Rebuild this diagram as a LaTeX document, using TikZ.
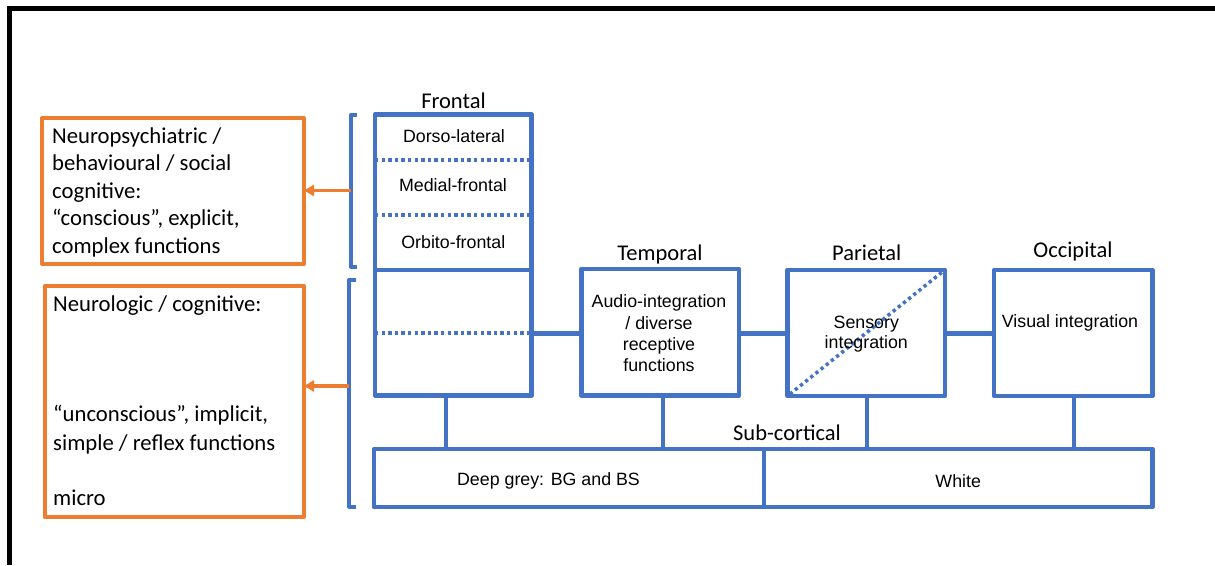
\documentclass[tikz,border=0pt]{standalone}
\usepackage{fontspec}
\setmainfont{Carlito}
\newfontfamily\arialfont{Liberation Sans}
\usetikzlibrary{arrows.meta}
\definecolor{lobeblue}{HTML}{4472C4}
\definecolor{funcorange}{HTML}{ED7D31}

\begin{document}
\begin{tikzpicture}[x=1pt,y=-1pt,
  lobe/.style={draw=lobeblue, line width=4.5pt, line join=round, inner sep=0pt, outer sep=0pt},
  divider/.style={draw=lobeblue, line width=3.5pt, dash pattern=on 3.3pt off 3.3pt},
  link/.style={draw=lobeblue, line width=4.5pt},
  split/.style={draw=lobeblue, line width=3.5pt},
  fbox/.style={draw=funcorange, line width=4pt, line join=round, inner sep=0pt, outer sep=0pt},
  brk/.style={draw=lobeblue, line width=4pt, line join=round},
  pointer/.style={draw=funcorange, line width=3.5pt, -{Triangle[length=10pt,width=11pt]}},
  lbl/.style={font=\fontsize{22.5}{27.5}\selectfont, inner sep=0pt, anchor=base},
  txt/.style={font=\arialfont\fontsize{17.8}{21.3}\selectfont, inner sep=0pt, anchor=base},
  mtxt/.style={font=\arialfont\fontsize{17.8}{21.3}\selectfont, inner sep=0pt, align=center},
  ftxt/.style={font=\fontsize{22.7}{27.5}\selectfont, inner sep=0pt, anchor=base west},
]
\useasboundingbox (0,0) rectangle (1215,565);
\fill[white] (0,0) rectangle (1215,565);

% outer frame
\draw[line width=5pt, black, line join=miter] (9.3,565) -- (9.3,8.5) -- (1215,8.5);

% lobes
\node (frontal)   [lobe, minimum width=156.5pt, minimum height=281.2pt] at (453.25,254.9) {};
\node (temporal)  [lobe, minimum width=157.7pt, minimum height=126.5pt] at (660.15,332.25) {};
\node (parietal)  [lobe, minimum width=157.5pt, minimum height=126.2pt] at (866.25,332.9) {};
\node (occipital) [lobe, minimum width=158.5pt, minimum height=126.2pt] at (1073.25,332.9) {};
\node (sub)       [lobe, minimum width=778.5pt, minimum height=58pt] at (763.25,478) {};

% frontal subdivisions
\coordinate (fsplit) at (0,270);
\coordinate (fdot1) at (0,160);
\coordinate (fdot2) at (0,215);
\coordinate (fdot3) at (0,333);
\draw[link] (frontal.west |- fsplit) -- (frontal.east |- fsplit);
\draw[divider] (frontal.west |- fdot1) -- (frontal.east |- fdot1);
\draw[divider] (frontal.west |- fdot2) -- (frontal.east |- fdot2);
\draw[divider] (frontal.west |- fdot3) -- (frontal.east |- fdot3);

% parietal diagonal
\draw[divider, shorten <=3pt, shorten >=3pt] (parietal.south west) -- (parietal.north east);

% sub-cortical split
\coordinate (subsplit) at (764,0);
\draw[split] (sub.north -| subsplit) -- (sub.south -| subsplit);

% horizontal links between lobes
\coordinate (row) at (0,333.5);
\draw[link] (frontal.east |- row) -- (temporal.west |- row);
\draw[link] (temporal.east |- row) -- (parietal.west |- row);
\draw[link] (parietal.east |- row) -- (occipital.west |- row);

% drops to the sub-cortical bar
\coordinate (fdrop) at (446,0);
\coordinate (tdrop) at (663,0);
\coordinate (pdrop) at (867,0);
\coordinate (odrop) at (1074,0);
\draw[link] (frontal.south -| fdrop) -- (sub.north -| fdrop);
\draw[link] (temporal.south -| tdrop) -- (sub.north -| tdrop);
\draw[link] (parietal.south -| pdrop) -- (sub.north -| pdrop);
\draw[link] (occipital.south -| odrop) -- (sub.north -| odrop);

% lobe labels
\node (lfrontal) [lbl] at (453.5,108.3) {Frontal};
\node (ltemporal) [lbl] at (660,260) {Temporal};
\node (lparietal) [lbl] at (866.7,260.7) {Parietal};
\node (loccipital) [lbl] at (1073,257) {Occipital};
\node (lsub) [lbl] at (787,440.7) {Sub-cortical};

% region texts
\node (dl) [txt] at (454,142.7) {Dorso-lateral};
\node (mf) [txt] at (453,191.7) {Medial-frontal};
\node (of) [txt] at (453.3,248.3) {Orbito-frontal};
\node (ttext) [mtxt] at (659,333.5) {Audio-integration\\/ diverse\\receptive\\functions};
\node (ptext) [mtxt, font=\arialfont\fontsize{17.8}{20}\selectfont] at (866.3,334.5) {Sensory\\integration};
\node (otext) [txt] at (1070,327.3) {Visual integration};
\node (grey) [txt] at (548.5,485) {Deep grey: BG and BS};
\node (white) [txt] at (958.2,487.3) {White};

% function boxes
\node (box1) [fbox, minimum width=262pt, minimum height=146pt] at (173,191) {};
\node (box2) [fbox, minimum width=259.3pt, minimum height=231pt] at (174.35,401.5) {};
\node (a1) [ftxt] at (52,143) {Neuropsychiatric /};
\node (a2) [ftxt] at (52,170.5) {behavioural / social};
\node (a3) [ftxt] at (52,198) {cognitive:};
\node (a4) [ftxt] at (52,225.5) {“conscious”, explicit,};
\node (a5) [ftxt] at (52,253) {complex functions};
\node (b1t) [ftxt] at (53,311.7) {Neurologic / cognitive:};
\node (b2t) [ftxt] at (53,421.7) {“unconscious”, implicit,};
\node (b3t) [ftxt] at (53,450) {simple / reflex functions};
\node (b4t) [ftxt] at (53,505) {micro};

% brackets and pointers
\draw[brk] (356.7,115) -- (350.8,115) -- (350.8,266.5) -- (356.7,266.5);
\draw[brk] (356,280) -- (349.2,280) -- (349.2,506.5) -- (356,506.5);
\coordinate (k1) at (350.8,190.5);
\coordinate (k2) at (349.2,386);
\draw[pointer] (k1) -- (box1.east |- k1);
\draw[pointer] (k2) -- (box2.east |- k2);
\end{tikzpicture}
\end{document}
